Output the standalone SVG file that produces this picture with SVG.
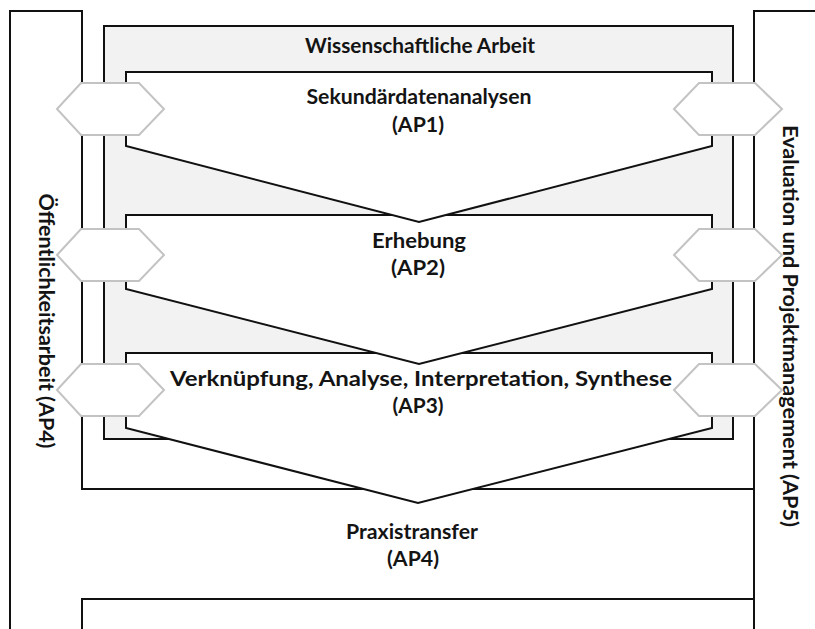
<svg xmlns="http://www.w3.org/2000/svg" width="815" height="629" viewBox="0 0 815 629">
<style>
.ln{fill:none;stroke:#111;stroke-width:2}
.box{fill:#fff;stroke:#111;stroke-width:2;stroke-linejoin:miter}
.gray{fill:#f2f2f2;stroke:#111;stroke-width:2}
.hex{fill:#fff;stroke:#c3c3c3;stroke-width:2}
.t{font-family:Lato,"Liberation Sans",sans-serif;font-weight:bold;font-size:21px;fill:#141414;text-anchor:middle}
</style>
<rect width="815" height="629" fill="#fff"/>
<g id="frame">
<path class="ln" d="M10,629 V11 H82 V489 H754 M82,629 V599 H754 M754,629 V11 H815"/>
</g>
<g id="wissenschaftliche-arbeit">
<rect class="gray" x="104" y="26" width="629" height="413"/>
<text class="t" x="420" y="53" textLength="230" lengthAdjust="spacingAndGlyphs">Wissenschaftliche Arbeit</text>
</g>
<g id="ap3">
<path class="box" d="M126,353 H712 V428 L418,503 L126,428 Z"/>
<text class="t" x="421" y="386" textLength="502" lengthAdjust="spacingAndGlyphs">Verknüpfung, Analyse, Interpretation, Synthese</text>
<text class="t" x="418" y="413" textLength="51" lengthAdjust="spacingAndGlyphs">(AP3)</text>
</g>
<g id="ap2">
<path class="box" d="M126,215 H712 V289 L419,364 L126,289 Z"/>
<text class="t" x="419" y="248" textLength="94" lengthAdjust="spacingAndGlyphs">Erhebung</text>
<text class="t" x="418" y="275" textLength="54" lengthAdjust="spacingAndGlyphs">(AP2)</text>
</g>
<g id="ap1">
<path class="box" d="M126,72 H712 V146 L419,222 L126,146 Z"/>
<text class="t" x="419" y="104" textLength="225" lengthAdjust="spacingAndGlyphs">Sekundärdatenanalysen</text>
<text class="t" x="418" y="132" textLength="52" lengthAdjust="spacingAndGlyphs">(AP1)</text>
</g>
<g id="praxistransfer">
<text class="t" x="412" y="539" textLength="132" lengthAdjust="spacingAndGlyphs">Praxistransfer</text>
<text class="t" x="413" y="566" textLength="52" lengthAdjust="spacingAndGlyphs">(AP4)</text>
</g>
<g id="oeffentlichkeitsarbeit">
<text class="t" transform="translate(39,321) rotate(90)" textLength="255" lengthAdjust="spacingAndGlyphs">Öffentlichkeitsarbeit (AP4)</text>
</g>
<g id="evaluation">
<text class="t" transform="translate(783,326) rotate(90)" textLength="402" lengthAdjust="spacingAndGlyphs">Evaluation und Projektmanagement (AP5)</text>
</g>
<g id="connectors">
<polygon class="hex" points="57,109 81,83 139,83 164,109 139,135 81,135"/>
<polygon class="hex" points="57,255 81,229 139,229 164,255 139,281 81,281"/>
<polygon class="hex" points="57,390 81,364 139,364 164,390 139,416 81,416"/>
<polygon class="hex" points="674,109 699,83 755,83 782,109 755,135 699,135"/>
<polygon class="hex" points="674,255 699,229 755,229 782,255 755,281 699,281"/>
<polygon class="hex" points="674,390 699,364 755,364 782,390 755,416 699,416"/>
</g>
</svg>
